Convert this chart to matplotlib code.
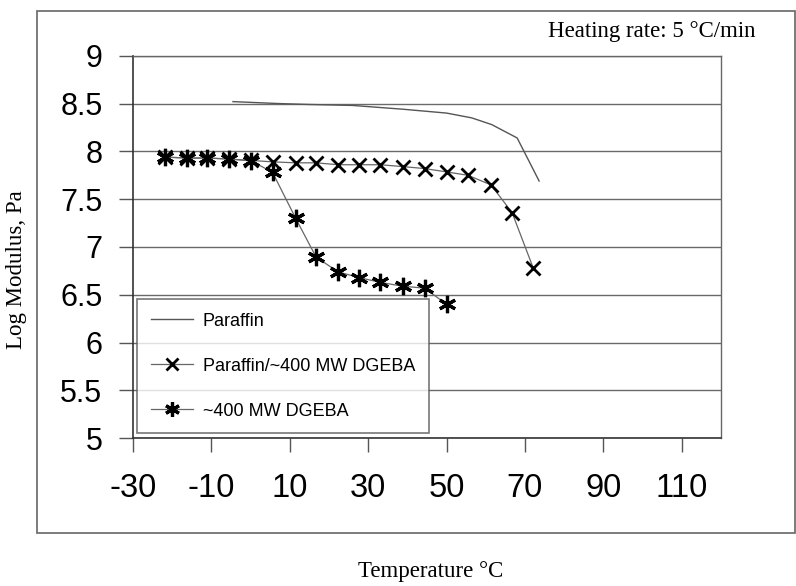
import matplotlib
matplotlib.use("Agg")
import matplotlib.pyplot as plt
from matplotlib.patches import Rectangle

# Data
paraffin_T = [-4.5, 7, 15, 26, 39, 50, 56.4, 61.5, 68, 73.6]
paraffin_G = [8.52, 8.50, 8.49, 8.48, 8.44, 8.40, 8.35, 8.28, 8.14, 7.69]

blend_T = [-21.8, -16.3, -11.0, -5.6, 0.2, 5.6, 11.5, 16.7, 22.3, 27.7, 33.1, 39.0, 44.4, 50.0, 55.4, 61.3, 66.7, 72.1]
blend_G = [7.94, 7.93, 7.93, 7.92, 7.905, 7.89, 7.88, 7.88, 7.86, 7.86, 7.86, 7.84, 7.82, 7.785, 7.75, 7.65, 7.36, 6.78]

dgeba_T = [-21.8, -16.3, -11.0, -5.6, 0.2, 5.6, 11.5, 16.7, 22.3, 27.7, 33.1, 38.8, 44.4, 50.0]
dgeba_G = [7.94, 7.93, 7.93, 7.92, 7.90, 7.78, 7.30, 6.895, 6.74, 6.68, 6.63, 6.59, 6.57, 6.40]

x_ticks = [-30, -10, 10, 30, 50, 70, 90, 110]
y_ticks = [5, 5.5, 6, 6.5, 7, 7.5, 8, 8.5, 9]
y_ticklabels = ["5", "5.5", "6", "6.5", "7", "7.5", "8", "8.5", "9"]

W, H = 796, 586
fig = plt.figure(figsize=(W / 100, H / 100), dpi=100)

# outer chart frame
fig.patches.append(Rectangle((37 / W, 1 - 533 / H), (795 - 37) / W, (533 - 11) / H,
                             transform=fig.transFigure, fill=False,
                             edgecolor="#666666", lw=1.2))

ax = fig.add_axes([133 / W, 1 - 438.3 / H, (721 - 133) / W, (438.3 - 55.7) / H])
ax.set_xlim(-30, 120)
ax.set_ylim(5, 9)

sans = "Liberation Sans"
serif = "Liberation Serif"

ax.set_xticks(x_ticks)
ax.set_xticklabels([str(t) for t in x_ticks], fontsize=23.5, family=sans)
ax.set_yticks(y_ticks)
ax.set_yticklabels(y_ticklabels, fontsize=22, family=sans)
ax.tick_params(axis="x", direction="out", length=10, width=1, color="#555555", pad=15)
ax.tick_params(axis="y", direction="out", length=10, width=1, color="#555555", pad=12)

for y in y_ticks:
    ax.axhline(y, color="#6a6a6a", lw=1.0, zorder=1)

for s in ["left", "bottom"]:
    ax.spines[s].set_color("#333333")
    ax.spines[s].set_linewidth(1.2)
for s in ["right", "top"]:
    ax.spines[s].set_color("#666666")
    ax.spines[s].set_linewidth(1.0)

ax.plot(paraffin_T, paraffin_G, color="#555555", lw=1.0, label="Paraffin", zorder=3)
ax.plot(blend_T, blend_G, color="#666666", lw=0.9, marker="x", markersize=10.5,
        markeredgewidth=2.0, markeredgecolor="black", label="Paraffin/~400 MW DGEBA", zorder=4)
ax.plot(dgeba_T, dgeba_G, color="#666666", lw=0.9, marker=(6, 2, 0), markersize=12.5,
        markeredgewidth=2.3, markeredgecolor="black", label="~400 MW DGEBA", zorder=5)

leg = fig.legend(loc="upper left", bbox_to_anchor=(137 / W, 1 - 299 / H),
                 bbox_transform=fig.transFigure, borderaxespad=0,
                 prop={"family": sans, "size": 13}, frameon=True, fancybox=False,
                 handlelength=2.35, handletextpad=0.55, borderpad=0.75,
                 labelspacing=1.55, markerscale=0.85)
leg.get_frame().set_edgecolor("#555555")
leg.get_frame().set_linewidth(1.2)

fig.text(431 / W, 1 - 572 / H, "Temperature \u00b0C", ha="center", va="center",
         family=serif, fontsize=16.5)
fig.text(17 / W, 1 - 270 / H, "Log Modulus, Pa", ha="center", va="center",
         rotation=90, family=serif, fontsize=16.5)
fig.text(755 / W, 1 - 31 / H, "Heating rate: 5 \u00b0C/min", ha="right", va="center",
         family=serif, fontsize=16.5)

fig.savefig("out.png", dpi=100)
